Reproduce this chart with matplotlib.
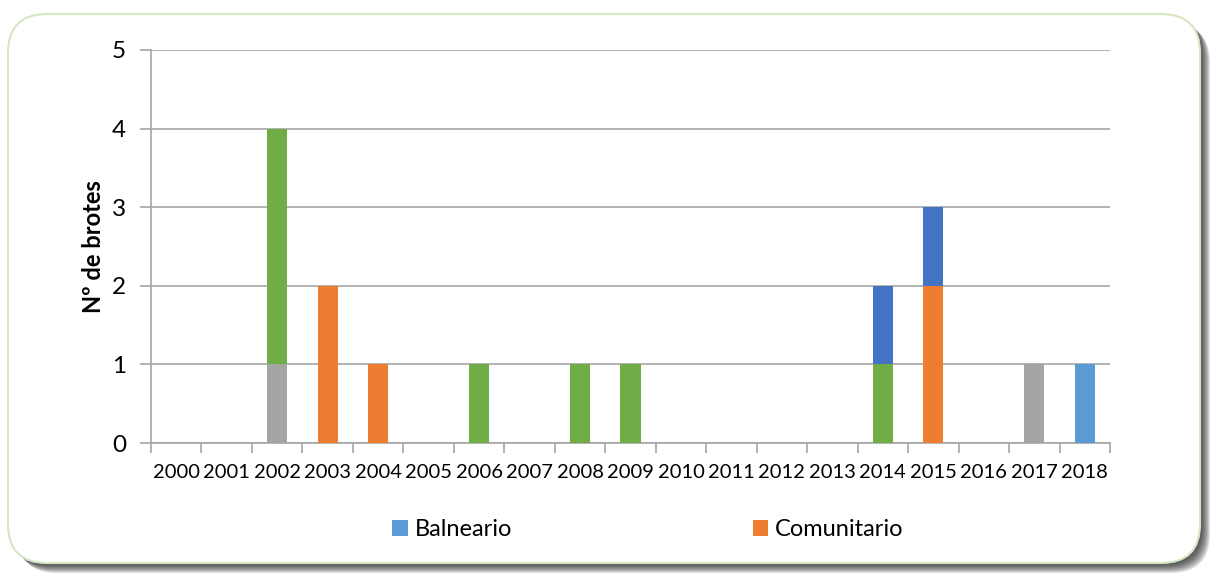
import matplotlib
matplotlib.use("Agg")
import matplotlib.pyplot as plt
import numpy as np
from matplotlib.patches import FancyBboxPatch

years = [str(y) for y in range(2000, 2019)]
balneario   = [0,0,0,0,0,0,0,0,0,0,0,0,0,0,0,0,0,0,1]
comunitario = [0,0,0,2,1,0,0,0,0,0,0,0,0,0,0,2,0,0,0]
gris        = [0,0,1,0,0,0,0,0,0,0,0,0,0,0,0,0,0,1,0]
verde       = [0,0,3,0,0,0,1,0,1,1,0,0,0,0,1,0,0,0,0]
azul        = [0,0,0,0,0,0,0,0,0,0,0,0,0,0,1,1,0,0,0]
series_names = ["Balneario", "Comunitario", "_gris", "_verde", "_azul"]
series_vals = [balneario, comunitario, gris, verde, azul]
colors = ["#5B9BD5", "#ED7D31", "#A5A5A5", "#70AD47", "#4472C4"]

plt.rcParams['font.family'] = ['Lato', 'DejaVu Sans']

W, H = 1212, 576
fig = plt.figure(figsize=(W/100, H/100), dpi=100)

# background frame with shadow
bx, by, bw, bh = 8, 14, 1192, 549   # left, top, width, height in px
def box(offx, offy, **kw):
    return FancyBboxPatch(((bx + offx)/W, 1 - (by + bh + offy)/H), bw/W, bh/H,
                          boxstyle="round,pad=0,rounding_size=0.032",
                          transform=fig.transFigure, mutation_aspect=W/H, **kw)
for k in range(10, 0, -1):
    fig.patches.append(box(k, k, facecolor="#202020", edgecolor="none",
                           alpha=0.13, zorder=-10))
fig.patches.append(box(0, 0, facecolor="white", edgecolor="#D5E6C5",
                       linewidth=1.5, zorder=-9))

ax = fig.add_axes([151/W, 1 - 443/H, (1110-151)/W, (443-50)/H])
ax.set_zorder(5)
ax.set_facecolor("none")
x = np.arange(len(years))
bottom = np.zeros(len(years))
handles = []
for name, vals, c in zip(series_names, series_vals, colors):
    v = np.array(vals, dtype=float)
    b = ax.bar(x, v, bottom=bottom, width=0.4, color=c, label=name, zorder=3)
    bottom += v
    handles.append(b)

ax.set_xlim(-0.5, len(years) - 0.5)
ax.set_ylim(0, 5)
ax.set_yticks(range(6))
ax.yaxis.grid(True, color="#A6A6A6", linewidth=1.2, zorder=0)
ax.set_axisbelow(True)
ax.set_xticks(x)
ax.set_xticklabels(years, fontsize=14.5)
ax.tick_params(axis='x', length=0, pad=15)
ax.set_xticks(np.arange(-0.5, len(years)), minor=True)
ax.tick_params(axis='x', which='minor', length=7, color="#A6A6A6", width=1.2)
ax.tick_params(axis='y', labelsize=17.5, length=8, color="#A6A6A6", width=1.2, pad=10)
for s in ["top", "right"]:
    ax.spines[s].set_visible(False)
for s in ["left", "bottom"]:
    ax.spines[s].set_color("#A6A6A6")
    ax.spines[s].set_linewidth(1.2)
ax.set_ylabel("Nº de brotes", fontsize=17, fontweight="bold", labelpad=5)

leg = fig.legend(handles=handles[:2], labels=series_names[:2], loc="center left",
           bbox_to_anchor=(371/W, 1 - 530/H), ncol=2, frameon=False,
           fontsize=17, handlelength=0.65, handleheight=0.65, handletextpad=0.3,
           columnspacing=10.2)

fig.savefig("out.png", dpi=100)
